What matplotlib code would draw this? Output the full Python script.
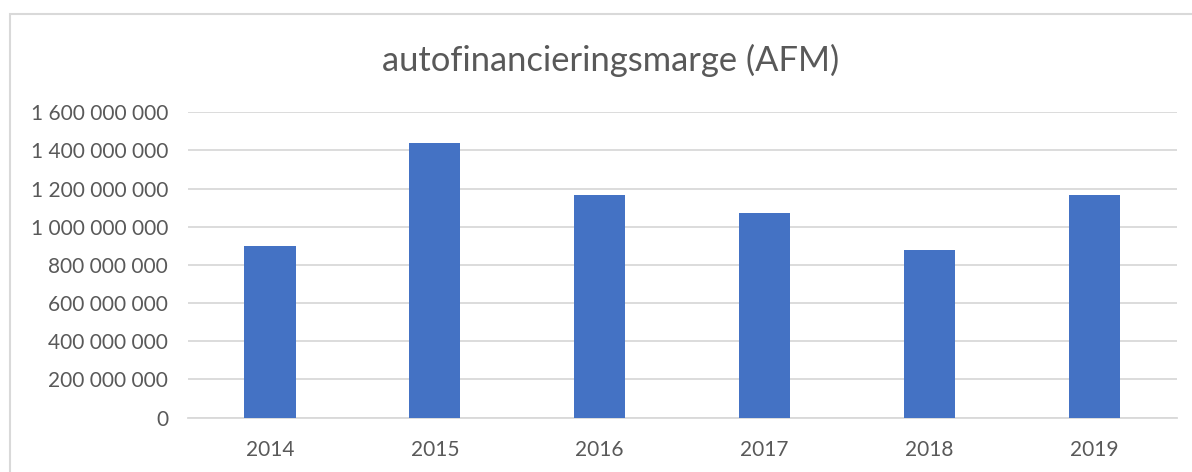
import matplotlib
matplotlib.use("Agg")
import matplotlib.pyplot as plt
from matplotlib.ticker import FuncFormatter, MultipleLocator
from matplotlib.patches import Rectangle

years = ["2014", "2015", "2016", "2017", "2018", "2019"]
afm = [898e6, 1441e6, 1165e6, 1074e6, 878e6, 1166e6]
title = "autofinancieringsmarge (AFM)"

W, H = 1192, 472
fig = plt.figure(figsize=(W / 100, H / 100), dpi=100)
plt.rcParams['font.family'] = ['Lato', 'DejaVu Sans']

# chart border (light gray)
fig.add_artist(Rectangle((9.5 / W, -0.1), 1.2, (H - 13.5) / H + 0.1,
                         transform=fig.transFigure, fill=False,
                         edgecolor="#d9d9d9", linewidth=1.5))

x0, x1 = 187.6, 1176.5
y_top, y_bot = 112.3, 417.5
ax = fig.add_axes([x0 / W, 1 - y_bot / H, (x1 - x0) / W, (y_bot - y_top) / H])

xs = range(len(years))
ax.bar(xs, afm, width=0.31, color="#4472C4", zorder=3)
ax.set_xlim(-0.5, len(years) - 0.5)
ax.set_ylim(0, 1.6e9)
ax.yaxis.set_major_locator(MultipleLocator(2e8))
ax.yaxis.set_major_formatter(FuncFormatter(lambda v, p: f"{int(round(v)):,}".replace(",", " ")))
ax.set_xticks(list(xs))
ax.set_xticklabels(years)
ax.grid(axis="y", color="#d9d9d9", linewidth=1.3, zorder=0)
for s in ["top", "right", "left"]:
    ax.spines[s].set_visible(False)
ax.spines["bottom"].set_color("#d9d9d9")
ax.spines["bottom"].set_linewidth(1.3)
ax.tick_params(axis="both", length=0, colors="#595959", labelsize=15)
ax.tick_params(axis="y", pad=14)
ax.tick_params(axis="x", pad=16)

fig.text(611 / W, 1 - 60 / H, title, ha="center", va="center",
         fontsize=24.8, color="#595959")

fig.savefig("out.png", dpi=100, facecolor="white")
